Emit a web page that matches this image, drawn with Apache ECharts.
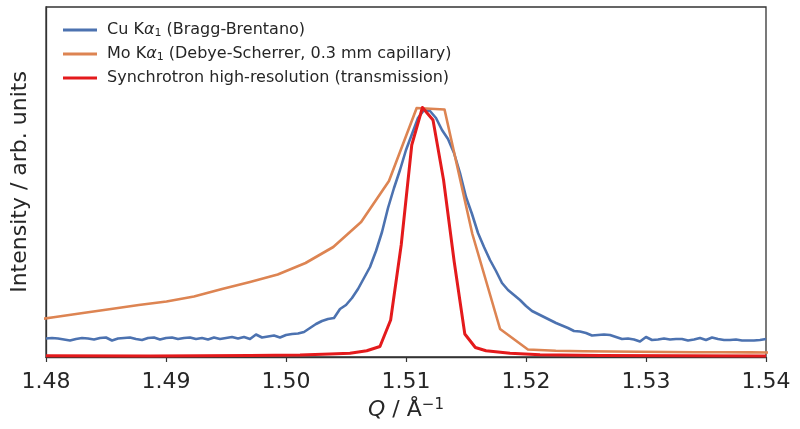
<!DOCTYPE html>
<html>
<head>
<meta charset="utf-8">
<script src="https://cdn.jsdelivr.net/npm/echarts@6/dist/echarts.min.js"></script>
<style>html,body{margin:0;padding:0;background:#fff}#c{width:800px;height:429px}</style>
</head>
<body>
<div id="c"></div>
<script>
// ---- Data (Q in Å^-1, intensity in arb. units) ----
const xTicks = [1.48, 1.49, 1.50, 1.51, 1.52, 1.53, 1.54];

const seriesNames = [
  'Cu Kα1 (Bragg-Brentano)',
  'Mo Kα1 (Debye-Scherrer, 0.3 mm capillary)',
  'Synchrotron high-resolution (transmission)'
];

const qCu = [
  1.4800,1.4805,1.4810,1.4815,1.4820,1.4825,1.4830,1.4835,1.4840,1.4845,
  1.4850,1.4855,1.4860,1.4865,1.4870,1.4875,1.4880,1.4885,1.4890,1.4895,
  1.4900,1.4905,1.4910,1.4915,1.4920,1.4925,1.4930,1.4935,1.4940,1.4945,
  1.4950,1.4955,1.4960,1.4965,1.4970,1.4975,1.4980,1.4985,1.4990,1.4995,
  1.5000,1.5005,1.5010,1.5015,1.5020,1.5025,1.5030,1.5035,1.5040,1.5045,
  1.5050,1.5055,1.5060,1.5065,1.5070,1.5075,1.5080,1.5085,1.5090,1.5095,
  1.5100,1.5105,1.5110,1.5115,1.5120,1.5125,1.5130,1.5135,1.5140,1.5145,
  1.5150,1.5155,1.5160,1.5165,1.5170,1.5175,1.5180,1.5185,1.5190,1.5195,
  1.5200,1.5205,1.5210,1.5215,1.5220,1.5225,1.5230,1.5235,1.5240,1.5245,
  1.5250,1.5255,1.5260,1.5265,1.5270,1.5275,1.5280,1.5285,1.5290,1.5295,
  1.5300,1.5305,1.5310,1.5315,1.5320,1.5325,1.5330,1.5335,1.5340,1.5345,
  1.5350,1.5355,1.5360,1.5365,1.5370,1.5375,1.5380,1.5385,1.5390,1.5395,
  1.5400
];
const iCu = [
  18.5,19,18.5,17.5,16.5,18,19,18.5,17.5,19,
  19.5,16.5,18.5,19,19.5,18,17,19,19.5,17.5,
  19,19.5,18,19,19.5,18,19,17.5,19.5,18,
  19,20,18.5,20,18,22.5,19.5,20.5,21.5,19.5,
  22,23,23.5,25,29,33,36,38,39,48,
  52,59,68,79,90,106,125,149,169,187,
  207,223,239,247,246,239,227,218,204,184,
  160,143,124,110,97,86,74,67,62,57,
  51,46,43,40,37,34,31.5,29,26,25.5,
  24,21.5,22,22.5,22,20,18,18.5,17.5,15.5,
  20,17,17.5,18.5,17.5,18,18,16.5,17.5,19,
  17,19.5,18,17,17,17.5,16.5,16.5,16.5,17,
  18
];

const qMo = [
  1.47846,1.48078,1.48308,1.48542,1.48773,1.49004,1.49233,1.49467,1.49700,1.49931,
  1.50163,1.50394,1.50626,1.50858,1.51089,1.51321,1.51553,1.51784,1.52016,1.52248,
  1.52479,1.52711,1.52942,1.53175,1.53408,1.53638,1.53871,1.54100
];
const iMo = [
  36,40,44,48,52,55.5,60.5,68,75,82.5,
  94,110,135,176,249,247.5,123,28,7.5,6.3,
  5.8,5.5,5.2,5,4.8,4.7,4.6,4.5
];

const qSyn = [
  1.48000,1.48867,1.49700,1.50117,1.50367,1.50533,1.50673,1.50783,1.50872,1.50960,
  1.51048,1.51137,1.51225,1.51313,1.51402,1.51490,1.51578,1.51667,1.51867,1.52117,
  1.52617,1.53283,1.54000
];
const iSyn = [
  1.2,1,1.5,2,3,3.7,6.3,10.5,37,112,
  212,249.5,237,177,95,23,9.5,6.3,3.7,2.2,
  1.5,1.2,1
];

// ---- Chart ----
const zip = (xs, ys) => xs.map((x, i) => [x, ys[i]]);
const colors = ['#4c72b0', '#dd8452', '#e41a1c'];
const widths = [2.6, 2.6, 3];
const sets = [[qCu, iCu], [qMo, iMo], [qSyn, iSyn]];

const chart = echarts.init(document.getElementById('c'), null, {renderer: 'canvas'});
const FONT = 'DejaVu Sans';

chart.setOption({
  animation: false,
  backgroundColor: '#fff',
  grid: {left: 46, right: 34, top: 7, bottom: 72, show: true, borderColor: '#333', borderWidth: 1.3, backgroundColor: 'transparent'},
  legend: {
    orient: 'vertical', left: 58, top: 17,
    icon: 'rect', itemWidth: 34, itemHeight: 3, itemGap: 7,
    data: seriesNames,
    formatter: function (name) {
      const m = name.match(/^(Cu|Mo) Kα1 (.*)$/);
      if (m) return '{n|' + m[1] + ' K}{a|α}{s|1}{n| ' + m[2] + '}';
      return '{n|' + name + '}';
    },
    textStyle: {
      fontFamily: FONT, fontSize: 16, color: '#262626', padding: [0, 0, 0, 5],
      rich: {
        n: {fontFamily: FONT, fontSize: 16, color: '#262626'},
        a: {fontFamily: FONT, fontSize: 16, fontStyle: 'italic', color: '#262626'},
        s: {fontFamily: FONT, fontSize: 11, color: '#262626', verticalAlign: 'bottom', padding: [7, 0, 0, 0]}
      }
    }
  },
  xAxis: {
    type: 'value', min: 1.48, max: 1.54, interval: 0.01,
    name: '{i|Q} / Å{s|−1}', nameLocation: 'middle', nameGap: 41,
    nameTextStyle: {
      fontFamily: FONT, fontSize: 22, color: '#262626',
      rich: {
        i: {fontFamily: FONT, fontSize: 22, fontStyle: 'italic', color: '#262626'},
        s: {fontFamily: FONT, fontSize: 15, color: '#262626', verticalAlign: 'top', padding: [0, 0, 10, 0]}
      }
    },
    axisLine: {show: true, lineStyle: {color: '#333', width: 1.3}},
    axisTick: {show: true, inside: false, length: 5, lineStyle: {color: '#333', width: 1.2}},
    axisLabel: {
      margin: 14, fontFamily: FONT, fontSize: 22, color: '#262626',
      formatter: function (v) {
        const t = xTicks.find(t => Math.abs(t - v) < 1e-9);
        return t === undefined ? '' : t.toFixed(2);
      }
    },
    splitLine: {show: false}
  },
  yAxis: {
    type: 'value', min: 0, max: 350,
    name: 'Intensity / arb. units', nameLocation: 'middle', nameGap: 15,
    nameTextStyle: {fontFamily: FONT, fontSize: 22, color: '#262626'},
    axisLine: {show: true, lineStyle: {color: '#333', width: 1.3}},
    axisTick: {show: false}, axisLabel: {show: false}, splitLine: {show: false}
  },
  series: sets.map((s, k) => ({
    name: seriesNames[k], type: 'line', data: zip(s[0], s[1]),
    showSymbol: false, symbol: 'none', clip: true,
    lineStyle: {color: colors[k], width: widths[k], join: 'round'},
    itemStyle: {color: colors[k]},
    z: 2 + k
  }))
});
</script>
</body>
</html>
